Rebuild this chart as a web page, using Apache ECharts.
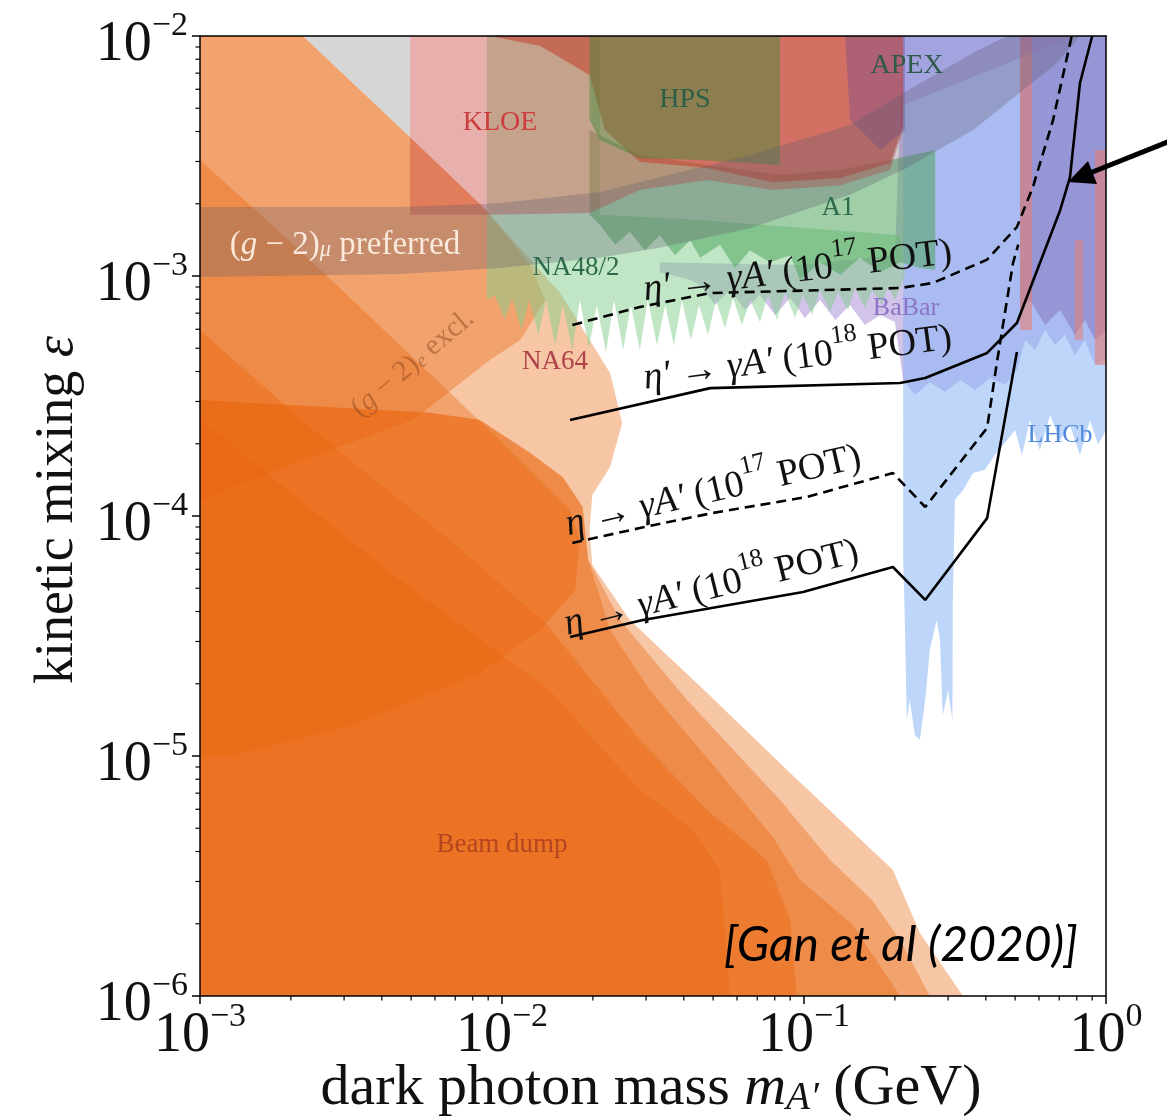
<!DOCTYPE html>
<html>
<head>
<meta charset="utf-8">
<script src="https://cdn.jsdelivr.net/npm/echarts@6/dist/echarts.min.js"></script>
<style>
  html, body { margin: 0; background: #fff; }
  #chart { width: 1167px; height: 1120px; }
</style>
</head>
<body>
<div id="chart"></div>
<script>
const SERIF = '"Liberation Serif", "DejaVu Serif", serif';
const ORANGE = 'rgba(232,100,10,0.37)';

// decade exponents used for the tick labels
const xTickExp = [-3, -2, -1, 0];
const yTickExp = [-6, -5, -4, -3, -2];
const minorSteps = [2, 3, 4, 5, 6, 7, 8, 9];

// excluded regions, [mass GeV, epsilon]
const grayTop = [[2.19e-3, 1e-2], [4.96e-3, 1e-2], [4.96e-3, 3.79e-3]];

const beamDumpOuter = [[1e-3, 1e-2], [2.19e-3, 1e-2], [4.96e-3, 3.79e-3], [8.65e-3, 1.94e-3], [1.56e-2, 8.49e-4],
  [2.28e-2, 3.94e-4], [2.50e-2, 2.44e-4], [2.28e-2, 1.60e-4], [1.99e-2, 1.22e-4], [1.95e-2, 8.74e-5],
  [1.99e-2, 6.25e-5], [2.65e-2, 3.69e-5], [4.78e-2, 1.83e-5], [8.79e-2, 8.74e-6], [0.197, 3.35e-6],
  [0.242, 1.83e-6], [0.336, 1e-6], [1e-3, 1e-6]];

const g2eExcl = [[1e-3, 1e-2], [2.19e-3, 1e-2], [4.96e-3, 3.79e-3], [8.65e-3, 1.94e-3], [1.24e-2, 1.11e-3],
  [1.39e-2, 7.94e-4], [1.15e-2, 5.41e-4], [9.12e-3, 4.47e-4], [5.07e-3, 2.51e-4], [2.55e-3, 1.83e-4], [1e-3, 1.17e-4]];

const beamDumpWide = [[1e-3, 3.04e-4], [5.78e-3, 2.69e-4], [8.45e-3, 2.51e-4], [1.24e-2, 1.83e-4], [1.59e-2, 1.45e-4],
  [1.85e-2, 1.09e-4], [1.93e-2, 6.56e-5], [2.46e-2, 3.69e-5], [4.10e-2, 1.71e-5], [8.33e-2, 6.56e-6],
  [0.122, 3.69e-6], [0.168, 2.51e-6], [0.208, 1.71e-6], [0.261, 1e-6], [1e-3, 1e-6]];

const beamDumpMid = [[1e-3, 3.04e-4], [5.78e-3, 2.69e-4], [8.45e-3, 2.51e-4], [1.24e-2, 1.83e-4], [1.59e-2, 1.45e-4],
  [1.85e-2, 1.09e-4], [1.88e-2, 8.74e-5], [1.93e-2, 6.56e-5], [2.28e-2, 3.35e-5], [3.09e-2, 1.88e-5],
  [5.40e-2, 8.18e-6], [7.88e-2, 4.60e-6], [9.70e-2, 3.04e-6], [0.145, 1.98e-6], [0.208, 1e-6], [1e-3, 1e-6]];

const beamDumpUpper = [[1e-3, 3.04e-3], [2.14e-3, 1.28e-3], [4.59e-3, 5.16e-4], [9.84e-3, 2.07e-4], [1.68e-2, 1.06e-4],
  [1.81e-2, 7.94e-5], [1.75e-2, 4.92e-5], [1.34e-2, 3.35e-5], [8.45e-3, 2.22e-5], [3.07e-3, 1.32e-5],
  [1.23e-3, 9.9e-6], [1e-3, 9.9e-6]];

const beamDumpInner = [[1e-3, 5.96e-4], [2.37e-3, 2.28e-4], [6.73e-3, 7.94e-5], [1.41e-2, 3.52e-5], [2.86e-2, 1.17e-5],
  [4.78e-2, 5.96e-6], [7.54e-2, 3.69e-6], [9.0e-2, 2.07e-6], [9.48e-2, 1e-6], [1e-3, 1e-6]];

const beamDumpCore = [[1e-3, 2.51e-4], [4.59e-3, 5.41e-5], [1.44e-2, 1.88e-5], [2.86e-2, 7.22e-6], [4.20e-2, 5.06e-6],
  [5.27e-2, 3.35e-6], [5.69e-2, 1e-6], [1e-3, 1e-6]];

const babar = [[3.33e-2, 1.14e-3], [9.70e-2, 1.11e-3], [0.20, 1.22e-3], [0.213, 1e-2], [1, 1e-2], [1, 4.47e-4],
  [0.92, 4.26e-4], [0.851, 5.41e-4], [0.789, 4.69e-4], [0.731, 5.68e-4], [0.678, 5.16e-4], [0.628, 5.96e-4],
  [0.582, 4.92e-4], [0.540, 5.41e-4], [0.507, 4.06e-4], [0.463, 3.52e-4], [0.413, 3.76e-4], [0.368, 3.35e-4],
  [0.329, 3.69e-4], [0.293, 3.29e-4], [0.261, 3.61e-4], [0.233, 3.19e-4], [0.213, 3.69e-4], [0.200, 6.43e-4],
  [0.179, 6.88e-4], [0.159, 6.25e-4], [0.142, 7.57e-4], [0.127, 6.56e-4], [0.113, 7.94e-4], [0.1007, 6.68e-4],
  [9.0e-2, 8.09e-4], [8.02e-2, 6.88e-4], [7.14e-2, 8.33e-4], [6.38e-2, 7.22e-4], [5.69e-2, 8.74e-4],
  [5.07e-2, 7.57e-4], [4.53e-2, 9.17e-4], [4.20e-2, 9.62e-4], [3.33e-2, 1.04e-3]];

const lhcb = [[0.213, 1e-2], [1, 1e-2], [1, 2.28e-4], [0.942, 1.98e-4], [0.885, 2.51e-4], [0.82, 1.79e-4],
  [0.76, 2.39e-4], [0.705, 2.07e-4], [0.653, 2.63e-4], [0.604, 1.88e-4], [0.56, 2.51e-4], [0.527, 1.79e-4],
  [0.50, 2.28e-4], [0.47, 2.07e-4], [0.428, 1.79e-4], [0.397, 1.56e-4], [0.363, 1.51e-4], [0.336, 1.28e-4],
  [0.316, 1.17e-4], [0.311, 4.47e-5], [0.31, 1.41e-5], [0.30, 1.88e-5], [0.288, 1.48e-5], [0.282, 3.04e-5],
  [0.275, 3.69e-5], [0.261, 2.77e-5], [0.252, 1.71e-5], [0.242, 1.17e-5], [0.233, 1.22e-5], [0.224, 1.71e-5],
  [0.219, 1.41e-5], [0.215, 4.47e-5], [0.213, 6.56e-5]];

const purpleRight = [[0.519, 1e-2], [1, 1e-2], [1, 5.96e-4], [0.92, 5.41e-4], [0.851, 6.56e-4], [0.789, 5.68e-4],
  [0.705, 7.22e-4], [0.628, 6.25e-4], [0.56, 7.94e-4], [0.519, 7.22e-4]];
const kloeStripA = [[0.519, 1e-2], [0.569, 1e-2], [0.569, 5.96e-4], [0.519, 5.96e-4]];
const kloeStripB = [[0.92, 3.35e-3], [1, 3.35e-3], [1, 4.26e-4], [0.92, 4.26e-4]];
const kloeStripC = [[0.789, 1.41e-3], [0.84, 1.41e-3], [0.84, 5.41e-4], [0.789, 5.41e-4]];
const purpleTop = [[0.213, 1e-2], [0.789, 1e-2], [0.213, 5.16e-3]];

const na482 = [[8.91e-3, 1e-2], [2.11e-2, 1e-2], [2.11e-2, 1.80e-3], [4.53e-2, 1.71e-3], [0.208, 1.48e-3],
  [0.216, 1.01e-3], [0.200, 7.94e-4], [0.190, 9.17e-4], [0.181, 7.57e-4], [0.168, 8.74e-4], [0.159, 7.36e-4],
  [0.1475, 8.91e-4], [0.140, 7.22e-4], [0.1296, 8.58e-4], [0.122, 7.08e-4], [0.113, 8.74e-4], [0.1063, 6.88e-4],
  [0.0992, 8.33e-4], [0.0934, 6.68e-4], [0.0865, 8.58e-4], [0.0814, 6.56e-4], [0.0760, 8.33e-4], [0.0715, 6.43e-4],
  [0.0663, 7.94e-4], [0.0623, 6.25e-4], [0.0582, 8.09e-4], [0.0547, 6.07e-4], [0.0511, 7.94e-4], [0.0481, 5.68e-4],
  [0.0449, 7.57e-4], [0.0422, 5.41e-4], [0.0394, 7.94e-4], [0.0371, 5.16e-4], [0.0347, 7.57e-4], [0.0326, 5.16e-4],
  [0.0304, 7.94e-4], [0.0286, 4.92e-4], [0.0267, 7.57e-4], [0.0252, 4.92e-4], [0.0235, 7.94e-4], [0.0221, 4.82e-4],
  [0.0206, 7.57e-4], [0.0194, 5.01e-4], [0.0181, 7.94e-4], [0.0171, 4.92e-4], [0.0159, 7.57e-4], [0.0150, 5.16e-4],
  [0.0140, 7.94e-4], [0.0132, 5.68e-4], [0.0123, 7.94e-4], [0.0116, 5.96e-4], [0.0108, 8.09e-4], [0.0102, 6.56e-4],
  [0.00948, 8.33e-4], [0.00891, 7.94e-4]];

const a1 = [[1.95e-2, 4.06e-3], [2.86e-2, 3.19e-3], [4.78e-2, 2.90e-3], [8.33e-2, 2.64e-3], [0.132, 2.77e-3],
  [0.193, 3.04e-3], [0.272, 3.35e-3], [0.272, 1.06e-3], [0.242, 1.08e-3], [0.208, 1.14e-3], [0.179, 1.04e-3],
  [0.153, 1.19e-3], [0.132, 1.01e-3], [0.113, 1.14e-3], [9.70e-2, 9.62e-4], [9.0e-2, 1.22e-3], [7.71e-2, 1.14e-3],
  [6.62e-2, 1.28e-3], [5.91e-2, 1.08e-3], [5.27e-2, 1.35e-3], [4.53e-2, 1.19e-3], [4.20e-2, 1.41e-3],
  [3.74e-2, 1.22e-3], [3.33e-2, 1.48e-3], [2.97e-2, 1.28e-3], [2.65e-2, 1.53e-3], [2.37e-2, 1.35e-3],
  [2.11e-2, 1.63e-3], [1.95e-2, 1.80e-3]];

const kloe = [[4.96e-3, 1e-2], [0.213, 1e-2], [0.213, 4.06e-3], [0.193, 2.77e-3], [0.132, 2.39e-3],
  [7.88e-2, 2.28e-3], [4.78e-2, 2.51e-3], [2.86e-2, 2.28e-3], [1.95e-2, 1.83e-3], [8.91e-3, 1.80e-3],
  [4.96e-3, 1.80e-3]];
const redBlob = [[9.12e-3, 1e-2], [0.213, 1e-2], [0.213, 4.26e-3], [0.193, 2.96e-3], [0.132, 2.56e-3],
  [7.88e-2, 2.46e-3], [4.78e-2, 2.82e-3], [2.86e-2, 2.99e-3], [2.19e-2, 4.06e-3], [1.95e-2, 6.88e-3],
  [1.34e-2, 9.08e-3]];
const apex = [[0.137, 1e-2], [0.216, 1e-2], [0.216, 4.06e-3], [0.179, 3.35e-3], [0.142, 4.47e-3]];
const hps = [[1.95e-2, 1e-2], [8.33e-2, 1e-2], [8.33e-2, 2.90e-3], [4.53e-2, 3.04e-3], [2.86e-2, 3.10e-3],
  [2.11e-2, 3.69e-3], [1.95e-2, 4.47e-3]];

const g2muBand = [[1e-3, 1.94e-3], [4.59e-3, 1.94e-3], [9.84e-3, 2.01e-3], [2.11e-2, 2.24e-3], [3.33e-2, 2.58e-3],
  [6.62e-2, 3.19e-3], [0.142, 4.26e-3], [0.213, 5.79e-3], [0.363, 8.49e-3], [0.47, 1e-2], [0.82, 1e-2],
  [0.689, 7.72e-3], [0.363, 4.06e-3], [0.213, 2.77e-3], [0.142, 2.18e-3], [6.62e-2, 1.58e-3], [3.33e-2, 1.31e-3],
  [2.11e-2, 1.19e-3], [9.84e-3, 1.08e-3], [4.59e-3, 1.02e-3], [1e-3, 9.9e-4]];

// projected sensitivity curves
const etaPrime17 = [[1.71e-2, 6.25e-4], [2.86e-2, 7.43e-4], [4.89e-2, 8.49e-4], [0.208, 8.91e-4], [0.267, 9.35e-4],
  [0.404, 1.17e-3], [0.507, 1.6e-3], [0.573, 2.35e-3], [0.668, 4.47e-3], [0.77, 1e-2]];
const etaPrime18 = [[1.68e-2, 2.51e-4], [4.89e-2, 3.41e-4], [0.208, 3.58e-4], [0.252, 3.76e-4], [0.404, 4.78e-4],
  [0.507, 6.37e-4], [0.705, 1.88e-3], [0.76, 2.58e-3], [0.82, 6.37e-3], [0.9, 1e-2]];
const eta17 = [[1.71e-2, 7.72e-5], [2.86e-2, 8.91e-5], [5.0e-2, 1.03e-4], [0.102, 1.2e-4], [0.197, 1.51e-4],
  [0.252, 1.09e-4], [0.404, 2.33e-4], [0.435, 4.34e-4], [0.492, 1.13e-3], [0.512, 1.35e-3]];
const eta18 = [[1.68e-2, 3.13e-5], [2.93e-2, 3.69e-5], [9.93e-2, 4.82e-5], [0.197, 6.13e-5], [0.252, 4.47e-5],
  [0.404, 9.8e-5], [0.507, 4.82e-4]];

function supText(e) {
  return e < 0 ? '\u2212' + (-e) : String(e);
}

function decadeLabel(exps) {
  return function (v) {
    const e = Math.round(Math.log10(v));
    if (exps.indexOf(e) < 0) return '';
    return '{b|10}{s|' + supText(e) + '}';
  };
}

function minorOf(exps) {
  const out = [];
  for (let i = 0; i < exps.length - 1; i++) {
    minorSteps.forEach(function (s) { out.push(s * Math.pow(10, exps[i])); });
  }
  return out;
}

function region(name, pts, color) {
  return {
    name: name,
    type: 'custom',
    silent: true,
    data: pts,
    renderItem: function (params, api) {
      if (params.dataIndex !== 0) return null;
      return {
        type: 'polygon',
        shape: { points: pts.map(function (p) { return api.coord(p); }) },
        style: { fill: color }
      };
    }
  };
}

function curve(name, pts, dashed) {
  return {
    name: name,
    type: 'line',
    data: pts,
    symbol: 'none',
    silent: true,
    z: 5,
    lineStyle: { color: '#000', width: 2.6, type: dashed ? [10, 6] : 'solid' }
  };
}

const tickRich = {
  b: { fontFamily: SERIF, fontSize: 56, lineHeight: 64, verticalAlign: 'bottom', color: '#111' },
  s: { fontFamily: SERIF, fontSize: 34, lineHeight: 32, verticalAlign: 'top', color: '#111' }
};

const mathRich = function (size, color) {
  return {
    n: { fontFamily: SERIF, fontSize: size, lineHeight: size * 1.3, verticalAlign: 'bottom', fill: color },
    i: { fontFamily: SERIF, fontSize: size, fontStyle: 'italic', lineHeight: size * 1.3, verticalAlign: 'bottom', fill: color },
    s: { fontFamily: SERIF, fontSize: size * 0.68, lineHeight: size * 0.68, verticalAlign: 'top', fill: color },
    sub: { fontFamily: SERIF, fontSize: size * 0.68, fontStyle: 'italic', lineHeight: size * 0.8, verticalAlign: 'bottom', fill: color }
  };
};

function note(text, x, y, size, color, rotation, rich) {
  return {
    type: 'text', x: x, y: y, rotation: rotation || 0, z: 100, silent: true,
    style: {
      text: text, fill: color, fontFamily: SERIF, fontSize: size,
      align: 'center', verticalAlign: 'middle', textAlign: 'center', textVerticalAlign: 'middle',
      rich: rich
    }
  };
}

const myChart = echarts.init(document.getElementById('chart'));

const options = {
  animation: false,
  backgroundColor: '#fff',
  textStyle: { fontFamily: SERIF },
  grid: { left: 200, right: 61, top: 36, bottom: 124, show: false },
  xAxis: [{
    type: 'log', logBase: 10, min: 1e-3, max: 1, position: 'bottom', z: 10,
    axisLine: { show: true, lineStyle: { color: '#000', width: 1.5 } },
    axisTick: { show: true, length: 8, lineStyle: { color: '#000', width: 1.5 } },
    axisLabel: { margin: 4, showMinLabel: true, showMaxLabel: true, formatter: decadeLabel(xTickExp), rich: tickRich },
    splitLine: { show: false }
  }, {
    type: 'log', logBase: 10, min: 1e-3, max: 1, position: 'top', z: 10,
    axisLine: { show: true, lineStyle: { color: '#000', width: 1.5 } },
    axisTick: { show: false }, axisLabel: { show: false }, splitLine: { show: false }
  }],
  yAxis: [{
    type: 'log', logBase: 10, min: 1e-6, max: 1e-2, position: 'left', z: 10,
    axisLine: { show: true, lineStyle: { color: '#000', width: 1.5 } },
    axisTick: { show: true, length: 8, lineStyle: { color: '#000', width: 1.5 } },
    axisLabel: { margin: 12, padding: [10, 0, 0, 0], showMinLabel: true, showMaxLabel: true, formatter: decadeLabel(yTickExp), rich: tickRich },
    splitLine: { show: false }
  }, {
    type: 'log', logBase: 10, min: 1e-6, max: 1e-2, position: 'right', z: 10,
    axisLine: { show: true, lineStyle: { color: '#000', width: 1.5 } },
    axisTick: { show: false }, axisLabel: { show: false }, splitLine: { show: false }
  }],
  series: [
    region('gray', grayTop, '#d6d6d6'),
    region('Beam dump outer', beamDumpOuter, ORANGE),
    region('(g-2)e excl.', g2eExcl, ORANGE),
    region('Beam dump wide', beamDumpWide, ORANGE),
    region('Beam dump mid', beamDumpMid, ORANGE),
    region('Beam dump upper', beamDumpUpper, ORANGE),
    region('Beam dump inner', beamDumpInner, ORANGE),
    region('Beam dump core', beamDumpCore, ORANGE),
    region('BaBar', babar, 'rgba(165,135,210,0.5)'),
    region('LHCb', lhcb, 'rgba(135,180,245,0.55)'),
    region('purple right', purpleRight, 'rgba(115,80,165,0.35)'),
    region('KLOE strip A', kloeStripA, 'rgba(235,125,105,0.55)'),
    region('KLOE strip B', kloeStripB, 'rgba(235,125,105,0.55)'),
    region('KLOE strip C', kloeStripC, 'rgba(235,125,105,0.5)'),
    region('purple top', purpleTop, 'rgba(150,110,190,0.3)'),
    region('NA48/2', na482, 'rgba(130,205,140,0.5)'),
    region('A1', a1, 'rgba(80,165,95,0.55)'),
    region('KLOE', kloe, 'rgba(205,80,70,0.45)'),
    region('KLOE red', redBlob, 'rgba(195,70,50,0.6)'),
    region('APEX', apex, 'rgba(110,70,150,0.35)'),
    region('HPS', hps, 'rgba(70,140,60,0.5)'),
    region('(g-2)mu', g2muBand, 'rgba(95,90,110,0.3)'),
    curve("eta' 1e17", etaPrime17, true),
    curve("eta' 1e18", etaPrime18, false),
    curve('eta 1e17', eta17, true),
    curve('eta 1e18', eta18, false),
    {
      type: 'custom', silent: true, z: 10,
      data: minorOf(xTickExp).map(function (v) { return [v, 1e-6]; }),
      renderItem: function (params, api) {
        const p = api.coord([api.value(0), api.value(1)]);
        return { type: 'line', shape: { x1: p[0], y1: p[1], x2: p[0], y2: p[1] + 4.5 }, style: { stroke: '#000', lineWidth: 1.2 } };
      }
    },
    {
      type: 'custom', silent: true, z: 10,
      data: minorOf(yTickExp).map(function (v) { return [1e-3, v]; }),
      renderItem: function (params, api) {
        const p = api.coord([api.value(0), api.value(1)]);
        return { type: 'line', shape: { x1: p[0] - 4.5, y1: p[1], x2: p[0], y2: p[1] }, style: { stroke: '#000', lineWidth: 1.2 } };
      }
    }
  ],
  graphic: [
    note('KLOE', 500, 123, 28, '#cc3d3d'),
    note('HPS', 685, 100, 28, '#2c5f47'),
    note('APEX', 907, 66, 28, '#2f5a4c'),
    note('A1', 838, 208, 27, '#2e6a4c'),
    note('NA48/2', 576, 268, 27, '#2e6a4c'),
    note('BaBar', 906, 308, 26, '#8c74c6'),
    note('NA64', 555, 362, 27, '#b0424c'),
    note('LHCb', 1060, 435, 26, '#4f88dc'),
    note('Beam dump', 502, 845, 27, '#b4461f'),
    note('{n|(}{i|g}{n| \u2212 2)}{sub|\u03bc}{n| preferred}', 345, 240, 33, '#fff', 0, mathRich(33, 'rgba(255,244,232,0.9)')),
    note('{n|(}{i|g}{n| \u2212 2)}{sub|e}{n| excl.}', 410, 360, 29, '#000', 0.7, mathRich(29, 'rgba(150,75,35,0.55)')),
    note('{i|\u03b7\u2032}{n| \u2192 }{i|\u03b3A\u2032}{n| (10}{s|17}{n| POT)}', 797, 266, 38, '#000', 0.12, mathRich(38, '#111')),
    note('{i|\u03b7\u2032}{n| \u2192 }{i|\u03b3A\u2032}{n| (10}{s|18}{n| POT)}', 797, 353, 38, '#000', 0.13, mathRich(38, '#111')),
    note('{i|\u03b7}{n| \u2192 }{i|\u03b3A\u2032}{n| (10}{s|17}{n| POT)}', 712, 486, 38, '#000', 0.227, mathRich(38, '#111')),
    note('{i|\u03b7}{n| \u2192 }{i|\u03b3A\u2032}{n| (10}{s|18}{n| POT)}', 710, 583, 38, '#000', 0.244, mathRich(38, '#111')),
    note('{n|kinetic mixing }{i|\u03b5}', 50, 510, 54, '#111', Math.PI / 2, mathRich(54, '#111')),
    note('{n|dark photon mass }{i|m}{sub|A\u2032}{n| (GeV)}', 651, 1080, 58, '#111', 0, mathRich(58, '#111')),
    {
      type: 'text', x: 1078, y: 946, z: 100, silent: true,
      style: {
        text: '[Gan et al (2020)]', fill: '#000', fontFamily: 'Lato, "Open Sans", sans-serif',
        fontSize: 48, fontStyle: 'italic', align: 'right', verticalAlign: 'middle',
        textAlign: 'right', textVerticalAlign: 'middle'
      }
    },
    {
      type: 'line', z: 100, silent: true,
      shape: { x1: 1170, y1: 141, x2: 1090, y2: 173 },
      style: { stroke: '#000', lineWidth: 5 }
    },
    {
      type: 'polygon', z: 100, silent: true,
      shape: { points: [[1068, 182], [1097, 184], [1088, 161]] },
      style: { fill: '#000' }
    }
  ]
};

myChart.setOption(options);

window.addEventListener('resize', () => {
  myChart.resize();
});
</script>
</body>
</html>
